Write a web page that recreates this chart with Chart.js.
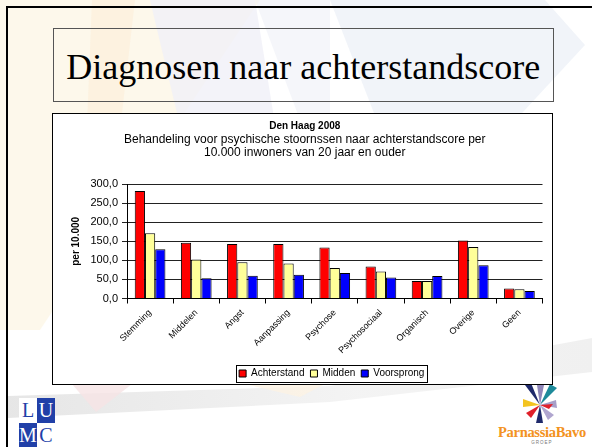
<!DOCTYPE html>
<html>
<head>
<meta charset="utf-8">
<script src="https://cdn.jsdelivr.net/npm/chart.js@4.4.1/dist/chart.umd.min.js"></script>
<style>
  html, body { margin: 0; padding: 0; background: #fff; }
  #slide { position: relative; width: 592px; height: 447px; overflow: hidden; background: #fff; }
  #bg { position: absolute; left: 0; top: 0; }
  #frame { position: absolute; left: 6px; top: 6px; width: 600px; height: 460px; border-left: 2px solid #000; border-top: 2px solid #000; }
  #titlebox { position: absolute; left: 52.5px; top: 28px; width: 501.5px; height: 73.5px; box-sizing: border-box; border: 1px solid #555; }
  #titletext { position: absolute; left: 52.5px; width: 501.5px; top: 47px; text-align: center; font-family: "Liberation Serif", "Times New Roman", serif; font-size: 36px; line-height: 40px; color: #000; white-space: nowrap; }
  #chartbox { position: absolute; left: 52px; top: 112.5px; width: 501px; height: 272px; box-sizing: border-box; border: 1.5px solid #000; background: #fff; }
  #chartbox canvas { position: absolute; left: 0; top: 0; }
  #lumc { position: absolute; left: 19px; top: 398px; width: 36px; height: 50px; }
  .cell { position: absolute; width: 18px; height: 25px; font-family: "Liberation Serif", serif; font-size: 20px; line-height: 25px; text-align: center; }
  #pb { position: absolute; left: 494px; top: 424px; width: 96px; text-align: center; font-family: "Liberation Serif", serif; font-weight: bold; font-size: 14.5px; color: #f39221; letter-spacing: -0.3px; }
  #groep { position: absolute; left: 494px; top: 440px; width: 96px; text-align: center; font-family: "Liberation Sans", sans-serif; font-size: 4.5px; color: #777; letter-spacing: 1px; }
</style>
</head>
<body>
<div id="slide">
  <svg id="bg" width="592" height="447" viewBox="0 0 592 447">
    <defs>
      <linearGradient id="sw" x1="0" y1="0" x2="1" y2="0">
        <stop offset="0" stop-color="#dedede"/>
        <stop offset="0.6" stop-color="#f0f0f0"/>
        <stop offset="1" stop-color="#ebebeb"/>
      </linearGradient>
    </defs>
    <polygon points="0,0 260,0 40,330 0,330" fill="#fdf6e6" opacity="0.8"/>
    <polygon points="92,0 135,0 112,200 84,200" fill="#fdebd2" opacity="0.45"/>
    <polygon points="150,0 255,0 292,230 205,230" fill="#f0f0f7" opacity="0.8"/>
    <polygon points="255,0 330,0 330,200" fill="#eef0f6" opacity="0.6"/>
    <polygon points="330,0 545,0 585,45 460,180 400,180" fill="#eef2f8" opacity="0.85"/>
    <polygon points="8,396 330,386 592,338 592,372 330,402 8,418" fill="url(#sw)" opacity="0.75"/>
    <polygon points="72,384 132,384 96,412" fill="#f6e3e5" opacity="0.8"/>
    <polygon points="245,384 325,384 300,397" fill="#fcf2e4" opacity="0.8"/>
    <g transform="translate(540,405)">
      <polygon points="0,0 -15,-20 -9,-22" fill="#1f2a6b"/>
      <polygon points="0,0 10,-21 17,-17" fill="#1d8a9a"/>
      <polygon points="0,0 -17,-6 -17,2" fill="#f3c420"/>
      <polygon points="0,0 -14,8 -9,13" fill="#e0202a"/>
      <polygon points="0,0 16,-5 17,3" fill="#a79fc8"/>
      <polygon points="0,0 14,10 8,15" fill="#b0a6cf"/>
      <polygon points="0,0 -4,18 3,18" fill="#1f2a6b"/>
      <polygon points="0,0 4,-20 -3,-20" fill="#8f86b9"/>
      <polygon points="0,0 9,4 13,-1" fill="#e0202a"/>
    </g>
  </svg>
  <div id="frame"></div>
  <div id="titlebox"></div>
  <div id="titletext">Diagnosen naar achterstandscore</div>
  <div id="chartbox"><canvas id="c" width="498" height="269"></canvas></div>
  <div id="lumc">
    <div class="cell" style="left:0;top:0;background:#fff;color:#2140a8;">L</div>
    <div class="cell" style="left:18px;top:0;background:#2140a8;color:#fff;">U</div>
    <div class="cell" style="left:0;top:25px;background:#2140a8;color:#fff;">M</div>
    <div class="cell" style="left:18px;top:25px;background:#fff;color:#2140a8;">C</div>
  </div>
  <div id="pb">ParnassiaBavo</div>
  <div id="groep">GROEP</div>
</div>
<script>
// ---- data ----
const categories = ['Stemming', 'Middelen', 'Angst', 'Aanpassing', 'Psychose', 'Psychosociaal', 'Organisch', 'Overige', 'Geen'];
const seriesNames = ['Achterstand', 'Midden', 'Voorsprong'];
const achterstand = [282, 146, 143, 143, 134, 84, 46, 152, 26];
const midden = [171, 102, 95, 92, 80, 71, 46, 135, 24];
const voorsprong = [129, 53, 60, 62, 67, 55, 59, 87, 20];
const yTicks = [0, 50, 100, 150, 200, 250, 300];
const chartTitle = 'Den Haag 2008';
const chartSubtitle = ['Behandeling voor psychische stoornssen naar achterstandscore per', '10.000 inwoners van 20 jaar en ouder'];
const yTitle = 'per 10.000';

Chart.defaults.font.family = '"Liberation Sans", Arial, sans-serif';
Chart.defaults.color = '#000';

const legendPlacer = {
  id: 'legendPlacer',
  afterLayout(chart) {
    const lg = chart.legend;
    const ca = chart.chartArea;
    const dx = (ca.left + ca.right) / 2 - 3 - (lg.left + lg.right) / 2;
    lg.left += dx; lg.right += dx;
    const h = lg.height;
    lg.top = 248.5; lg.bottom = lg.top + h;
  },
  afterDraw(chart) {
    const lg = chart.legend;
    const hb = lg.legendHitBoxes;
    if (!hb || !hb.length) return;
    let l = Infinity, r = -Infinity, t = Infinity, b = -Infinity;
    hb.forEach(h => { l = Math.min(l, h.left); r = Math.max(r, h.left + h.width); t = Math.min(t, h.top); b = Math.max(b, h.top + h.height); });
    const ctx = chart.ctx;
    ctx.save();
    ctx.strokeStyle = '#000';
    ctx.lineWidth = 1;
    ctx.strokeRect(Math.round(l - 3) + 0.5, Math.round(t - 3.5) + 0.5, Math.round(r - l + 6), 17);
    ctx.restore();
  }
};

const mk = (label, data, color) => ({
  label, data, backgroundColor: color, borderColor: '#000', borderWidth: 1,
  categoryPercentage: 0.665, barPercentage: 1.0
});

new Chart(document.getElementById('c'), {
  type: 'bar',
  data: {
    labels: categories,
    datasets: [
      mk(seriesNames[0], achterstand, '#ff0000'),
      mk(seriesNames[1], midden, '#ffff99'),
      mk(seriesNames[2], voorsprong, '#0000ff')
    ]
  },
  options: {
    responsive: false,
    animation: false,
    devicePixelRatio: 1,
    layout: { padding: { left: 14, right: 8.5, top: 6, bottom: 0 } },
    plugins: {
      title: { display: true, text: chartTitle, font: { size: 10, weight: 'bold' }, color: '#000', padding: { top: 0, bottom: 1 } },
      subtitle: { display: true, text: chartSubtitle, font: { size: 12, lineHeight: 1.09 }, color: '#000', padding: { top: 0, bottom: 25 } },
      legend: {
        position: 'bottom',
        labels: { boxWidth: 7, boxHeight: 7, padding: 6, font: { size: 10 }, color: '#000' }
      },
      tooltip: { enabled: false }
    },
    scales: {
      x: {
        offset: true,
        grid: { offset: true, drawOnChartArea: false, drawTicks: true, tickLength: 5, color: '#000' },
        border: { display: true, color: '#000', width: 1 },
        ticks: { minRotation: 45, maxRotation: 45, autoSkip: false, padding: 4, font: { size: 9 }, color: '#000' },
        afterFit(s) { s.height = 58.5; }
      },
      y: {
        min: 0, max: 300,
        afterBuildTicks(s) { s.ticks = yTicks.map(v => ({ value: v })); },
        grid: { color: '#222', lineWidth: 1, drawTicks: true, tickLength: 5 },
        border: { display: true, color: '#000', width: 1 },
        ticks: { padding: 4, font: { size: 11 }, color: '#000', callback: v => v.toFixed(1).replace('.', ',') },
        title: { display: true, text: yTitle, font: { size: 10, weight: 'bold' }, color: '#000', padding: { top: 3, bottom: 0 } },
        afterFit(s) { s.width = 60; }
      }
    }
  },
  plugins: [legendPlacer]
});
</script>
</body>
</html>
